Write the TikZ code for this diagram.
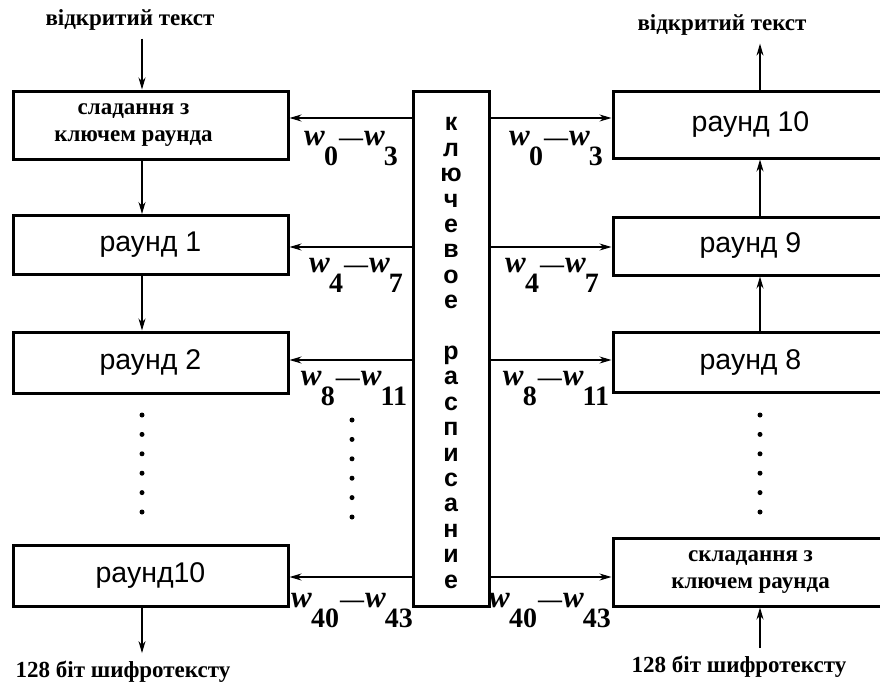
\documentclass[tikz,border=0pt]{standalone}
\usepackage{fontspec}
\setmainfont{Liberation Serif}
\setsansfont{Liberation Sans}
\usetikzlibrary{arrows.meta}
\tikzset{
  >={Stealth[length=12pt, width=7pt]},
  box/.style={draw, line width=3pt, minimum width=275pt, inner sep=0pt,
              font=\sffamily\fontsize{28.5}{30}\selectfont},
  addbox/.style={box, align=center, font=\bfseries\fontsize{23}{27}\selectfont},
  keybox/.style={draw, line width=3pt, minimum width=76pt, minimum height=515pt, inner sep=0pt},
  keytext/.style={align=center, inner sep=0pt,
              font=\sffamily\bfseries\fontsize{25}{25.4}\selectfont},
  arr/.style={->, line width=1.2pt},
  txtlabel/.style={font=\bfseries\fontsize{23}{26}\selectfont, inner sep=2pt},
  wl/.style={font=\bfseries\fontsize{28}{30}\selectfont, anchor=base, inner sep=0pt},
  dotmark/.style={fill},
}
% round key words w_i -- w_j
\newcommand\wsub[1]{\raisebox{-20pt}{#1}}
\newcommand\wkey[2]{{\fontsize{31}{31}\selectfont\textit{w}}\kern-1pt\wsub{#1}%
  \kern1pt{\fontsize{24}{24}\selectfont—}\kern1pt%
  {\fontsize{31}{31}\selectfont\textit{w}}\kern-1pt\wsub{#2}}

\begin{document}
\begin{tikzpicture}[x=1pt, y=-1pt]
  \clip (0,0) rectangle (880,691);
  \coordinate (lx) at (142,0);
  \coordinate (rx) at (760,0);
  % encryption (left)
  \node[txtlabel] (ptop) at (130,20) {відкритий текст};
  \node[addbox, minimum height=68pt] (add1) at (150.5,125)
    {сладання з\hspace*{34pt}\\ключем раунда\hspace*{34pt}};
  \node[box, minimum height=59pt] (l1) at (150.5,245) {раунд 1};
  \node[box, minimum height=61pt] (l2) at (150.5,362.5) {раунд 2};
  \node[box, minimum height=61pt] (l10) at (150.5,575.5) {раунд10};
  \node[txtlabel] (pbot) at (123,672) {128 біт шифротексту};
  % key schedule
  \node[keybox] (key) at (451,348.5) {};
  \node[keytext] (ktxt) at (451,353)
    {к\\л\\ю\\ч\\е\\в\\о\\е\\ \\р\\а\\с\\п\\и\\с\\а\\н\\и\\е};
  % decryption (right)
  \node[txtlabel] (ctop) at (722,25) {відкритий текст};
  \node[box, minimum height=67pt] (r10) at (750.5,124.5) {раунд 10};
  \node[box, minimum height=58pt] (r9) at (750.5,246) {раунд 9};
  \node[box, minimum height=60pt] (r8) at (750.5,362) {раунд 8};
  \node[addbox, minimum height=68pt] (add2) at (750.5,572) {складання з\\ключем раунда};
  \node[txtlabel] (cbot) at (739,667) {128 біт шифротексту};
  % data path
  \draw[arr, shorten <=6pt] (ptop.south -| lx) -- (add1.north -| lx);
  \draw[arr] (add1.south -| lx) -- (l1.north -| lx);
  \draw[arr] (l1.south -| lx) -- (l2.north -| lx);
  \draw[arr, shorten >=6pt] (l10.south -| lx) -- (pbot.north -| lx);
  \draw[arr, shorten >=6pt] (r10.north -| rx) -- (ctop.south -| rx);
  \draw[arr] (r9.north -| rx) -- (r10.south -| rx);
  \draw[arr] (r8.north -| rx) -- (r9.south -| rx);
  \draw[arr, shorten <=6pt] (cbot.north -| rx) -- (add2.south -| rx);
  % round keys
  \draw[arr] (key.west |- 0,118) -- (add1.east |- 0,118);
  \draw[arr] (key.west |- 0,247) -- (l1.east |- 0,247);
  \draw[arr] (key.west |- 0,360) -- (l2.east |- 0,360);
  \draw[arr] (key.west |- 0,577) -- (l10.east |- 0,577);
  \draw[arr] (key.east |- 0,118) -- (r10.west |- 0,118);
  \draw[arr] (key.east |- 0,247) -- (r9.west |- 0,247);
  \draw[arr] (key.east |- 0,360) -- (r8.west |- 0,360);
  \draw[arr] (key.east |- 0,577) -- (add2.west |- 0,577);
  \node[wl] (k1l) at (351,145) {\wkey{0}{3}};
  \node[wl] (k2l) at (356,272) {\wkey{4}{7}};
  \node[wl] (k3l) at (354,385) {\wkey{8}{11}};
  \node[wl] (k4l) at (352,607) {\wkey{40}{43}};
  \node[wl] (k1r) at (556,145) {\wkey{0}{3}};
  \node[wl] (k2r) at (552,272) {\wkey{4}{7}};
  \node[wl] (k3r) at (556,385) {\wkey{8}{11}};
  \node[wl] (k4r) at (550,607) {\wkey{40}{43}};
  % omitted rounds
  \foreach \y in {415,434.4,453.8,473.2,492.6,512} {
    \fill[dotmark] (142,\y) circle (2.5);
    \fill[dotmark] (760,\y) circle (2.5);
  }
  \foreach \y in {420,439.4,458.8,478.2,497.6,517}
    \fill[dotmark] (352,\y) circle (2.5);
\end{tikzpicture}
\end{document}
